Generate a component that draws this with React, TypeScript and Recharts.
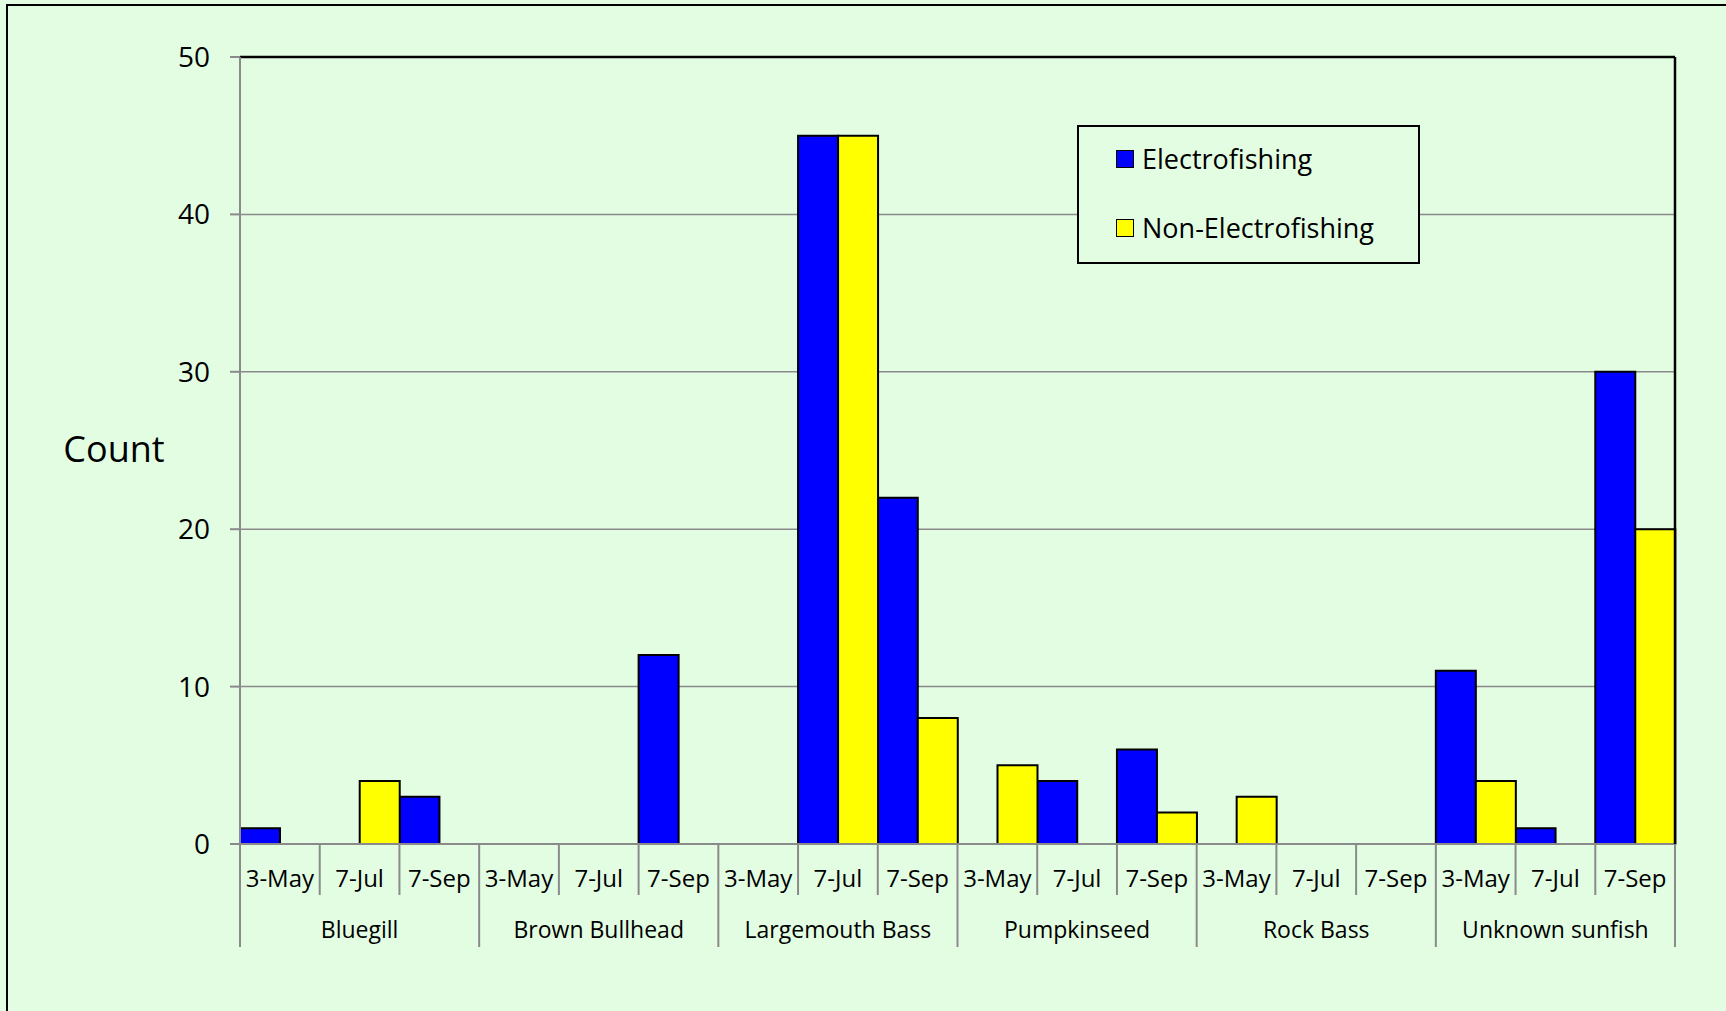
import React from 'react';
import { BarChart, Bar, XAxis, YAxis, CartesianGrid, ReferenceLine, Legend } from 'recharts';

const species = ['Bluegill', 'Brown Bullhead', 'Largemouth Bass', 'Pumpkinseed', 'Rock Bass', 'Unknown sunfish'];
const dates = ['3-May', '7-Jul', '7-Sep'];
const electrofishing = [1, 0, 3, 0, 0, 12, 0, 45, 22, 0, 4, 6, 0, 0, 0, 11, 1, 30];
const nonElectrofishing = [0, 4, 0, 0, 0, 0, 0, 45, 8, 5, 0, 2, 3, 0, 0, 4, 0, 20];
const yTicks = [0, 10, 20, 30, 40, 50];

const data = species.flatMap((s, si) =>
  dates.map((d, di) => {
    const i = si * 3 + di;
    return { key: `${s}|${d}`, species: s, date: d, e: electrofishing[i], n: nonElectrofishing[i] };
  })
);

const W = 1726;
const H = 1011;
const PLOT_L = 240;
const PLOT_R = 1675;
const PLOT_T = 57;
const PLOT_B = 844;
const SLOT = (PLOT_R - PLOT_L) / data.length;
const FONT = '"Open Sans", sans-serif';
const BG = 'rgb(227,253,227)';
const AXIS_GRAY = '#8a8a8a';

const CategoryTick = (props: any) => {
  const { x, payload } = props;
  const idx = payload.index;
  const row = data[idx];
  if (!row) return null;
  const x0 = x - SLOT / 2;
  const isGroupStart = idx % 3 === 0;
  return (
    <g>
      <line x1={x0} y1={PLOT_B} x2={x0} y2={isGroupStart ? 947 : 895} stroke={AXIS_GRAY} strokeWidth={2} />
      {idx === data.length - 1 && (
        <line x1={x + SLOT / 2} y1={PLOT_B} x2={x + SLOT / 2} y2={947} stroke={AXIS_GRAY} strokeWidth={2} />
      )}
      <text x={x} y={877} textAnchor="middle" dominantBaseline="central" fontFamily={FONT} fontSize={24} fill="#000">
        {row.date}
      </text>
      {idx % 3 === 1 && (
        <text x={x} y={929} textAnchor="middle" dominantBaseline="central" fontFamily={FONT} fontSize={23} fill="#000">
          {row.species}
        </text>
      )}
    </g>
  );
};

const LegendBox = () => (
  <div
    style={{
      width: 343,
      height: 139,
      border: '2px solid #000',
      boxSizing: 'border-box',
      background: BG,
      fontFamily: FONT,
      fontSize: 27,
      color: '#000',
      position: 'relative',
    }}
  >
    {[
      { label: 'Electrofishing', color: '#0000ff', top: 32 },
      { label: 'Non-Electrofishing', color: '#ffff00', top: 101 },
    ].map((it) => (
      <div key={it.label} style={{ position: 'absolute', left: 37, top: it.top - 20, height: 40, display: 'flex', alignItems: 'center' }}>
        <div style={{ width: 16, height: 16, background: it.color, border: '1.5px solid #000', marginRight: 8 }} />
        <span style={{ lineHeight: '40px' }}>{it.label}</span>
      </div>
    ))}
  </div>
);

export default function App() {
  return (
    <div style={{ position: 'absolute', left: 0, top: 0, width: W, height: H, background: BG, overflow: 'hidden' }}>
      <div style={{ position: 'absolute', left: 6, top: 4, width: W + 20, height: H + 20, border: '2.5px solid #000', boxSizing: 'border-box' }} />
      <BarChart
        width={W}
        height={H}
        data={data}
        margin={{ top: PLOT_T, right: 0, bottom: H - PLOT_B - 120, left: 0 }}
        barCategoryGap={0}
        barGap={0}
      >
        <CartesianGrid horizontal vertical={false} stroke={AXIS_GRAY} strokeWidth={1.5} yAxisId="left" />
        <XAxis
          dataKey="key"
          interval={0}
          height={120}
          tickLine={false}
          axisLine={{ stroke: AXIS_GRAY, strokeWidth: 2 }}
          tick={<CategoryTick />}
        />
        <YAxis
          yAxisId="left"
          width={PLOT_L}
          domain={[0, 50]}
          ticks={yTicks}
          interval={0}
          tickSize={10}
          tickMargin={20}
          tickLine={{ stroke: AXIS_GRAY, strokeWidth: 2 }}
          axisLine={{ stroke: AXIS_GRAY, strokeWidth: 2 }}
          tick={{ fontFamily: FONT, fontSize: 28, fill: '#000' }}
          label={{
            content: () => (
              <text x={114} y={448} textAnchor="middle" dominantBaseline="central" fontFamily={FONT} fontSize={36} fill="#000">
                Count
              </text>
            ),
          }}
        />
        <YAxis
          yAxisId="right"
          orientation="right"
          width={W - PLOT_R}
          domain={[0, 50]}
          tick={false}
          tickLine={false}
          axisLine={{ stroke: '#000', strokeWidth: 2.5 }}
        />
        <ReferenceLine yAxisId="left" y={50} stroke="#000" strokeWidth={2.5} />
        <Legend
          layout="vertical"
          align="center"
          verticalAlign="middle"
          content={<LegendBox />}
          wrapperStyle={{ position: 'absolute', left: 1077, top: 125, width: 343, height: 139 }}
        />
        <Bar yAxisId="left" dataKey="e" name="Electrofishing" fill="#0000ff" stroke="#000" strokeWidth={2} isAnimationActive={false} />
        <Bar yAxisId="left" dataKey="n" name="Non-Electrofishing" fill="#ffff00" stroke="#000" strokeWidth={2} isAnimationActive={false} />
      </BarChart>
    </div>
  );
}
